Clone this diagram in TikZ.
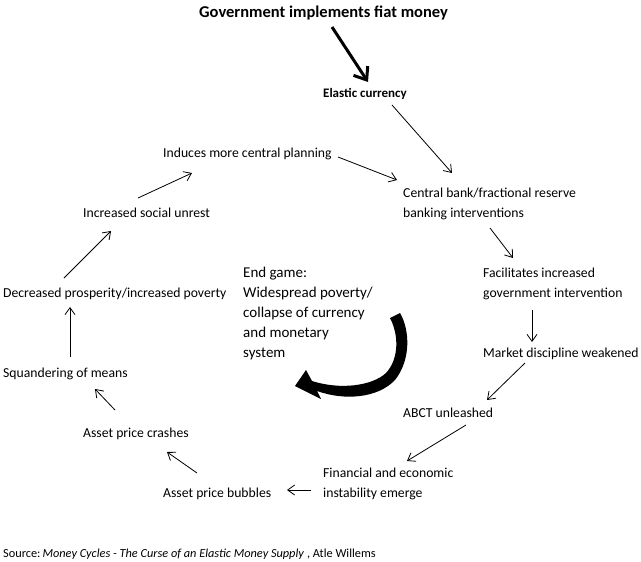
\documentclass[tikz,border=0pt]{standalone}
\usepackage{fontspec}
\setmainfont{Carlito}
\usetikzlibrary{arrows.meta}
\begin{document}
\begin{tikzpicture}[x=1pt,y=-1pt,
  lbl/.style={anchor=base west,inner sep=0pt,align=left,font=\fontsize{13.7}{20}\selectfont},
  endlbl/.style={anchor=base west,inner sep=0pt,align=left,font=\fontsize{15}{20}\selectfont},
  arr/.style={line width=0.8pt,-{Straight Barb[length=7pt,width=10pt,line width=0.8pt]}},
  thickarr/.style={line width=3pt,-{Straight Barb[length=11pt,width=17pt,line width=3pt]}}]
\useasboundingbox[fill=white] (0,0) rectangle (641,562);

\node[anchor=base west,inner sep=0pt,font=\fontsize{16.5}{20}\selectfont\bfseries] (gov) at (199,17) {Government implements fiat money};
\node[lbl,font=\fontsize{13}{20}\selectfont\bfseries] (elastic) at (323,97) {Elastic currency};
\node[lbl] (central) at (403,217) {Central bank/fractional reserve\\banking interventions};
\node[lbl] (facil) at (483,297) {Facilitates increased\\government intervention};
\node[lbl] (market) at (483,357) {Market discipline weakened};
\node[lbl] (abct) at (403,417) {ABCT unleashed};
\node[lbl] (fin) at (323,497) {Financial and economic\\instability emerge};
\node[lbl] (bubbles) at (163,497) {Asset price bubbles};
\node[lbl] (crashes) at (83,437) {Asset price crashes};
\node[lbl] (squander) at (3,377) {Squandering of means};
\node[lbl] (decr) at (3,297) {Decreased prosperity/increased poverty};
\node[lbl] (unrest) at (83,217) {Increased social unrest};
\node[lbl] (induces) at (163,157) {Induces more central planning};
\node[endlbl] (endgame) at (243,357) {End game:\\Widespread poverty/\\collapse of currency\\and monetary\\system};
\node[lbl,font=\fontsize{12.3}{20}\selectfont] (source) at (3,557) {Source:\,\textit{Money Cycles - The Curse of an Elastic Money Supply} , Atle Willems};

% connector end points
\coordinate (g1) at (332,27);   \coordinate (g2) at (368,82);
\coordinate (e1) at (392,105);  \coordinate (e2) at (452,173);
\coordinate (i1) at (338,157);  \coordinate (i2) at (397,180);
\coordinate (c1) at (490,228);  \coordinate (c2) at (513,258);
\coordinate (f1) at (532,310);  \coordinate (f2) at (532,342);
\coordinate (m1) at (525,363);  \coordinate (m2) at (487,400);
\coordinate (a1) at (466,425);  \coordinate (a2) at (407,461);
\coordinate (n1) at (311,490);  \coordinate (n2) at (287,490);
\coordinate (b1) at (197,473);  \coordinate (b2) at (167,452);
\coordinate (s1) at (115,410);  \coordinate (s2) at (95,389);
\coordinate (q1) at (70,357);   \coordinate (q2) at (70,307);
\coordinate (d1) at (64,278);   \coordinate (d2) at (111,231);
\coordinate (u1) at (138,198);  \coordinate (u2) at (192,173);

\draw[thickarr] (g1) -- (g2);
\draw[arr] (e1) -- (e2);
\draw[arr] (i1) -- (i2);
\draw[arr] (c1) -- (c2);
\draw[arr] (f1) -- (f2);
\draw[arr] (m1) -- (m2);
\draw[arr] (a1) -- (a2);
\draw[arr] (n1) -- (n2);
\draw[arr] (b1) -- (b2);
\draw[arr] (s1) -- (s2);
\draw[arr] (q1) -- (q2);
\draw[arr] (d1) -- (d2);
\draw[arr] (u1) -- (u2);

% big curved arrow
\fill (390,318) -- (400,313)
  .. controls (410,330) and (411,360) .. (395,380)
  .. controls (378,398) and (345,401) .. (317,391)
  -- (321,399) -- (295,386) -- (306,370) -- (312,381)
  .. controls (340,390) and (372,386) .. (386,373)
  .. controls (399,359) and (399,335) .. (390,318) -- cycle;
\end{tikzpicture}
\end{document}
